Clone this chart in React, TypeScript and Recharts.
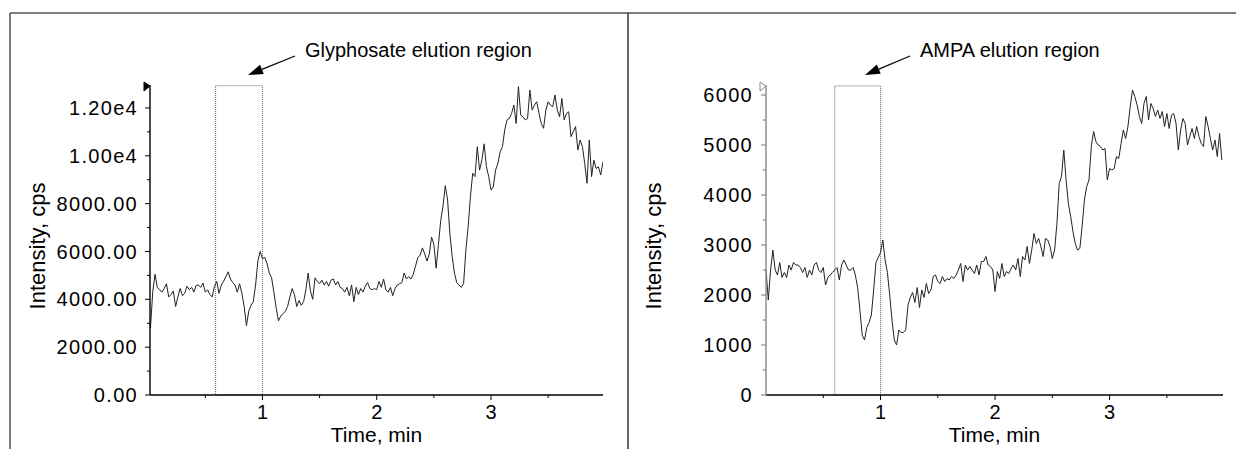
import { LineChart, Line, XAxis, YAxis, ReferenceArea, ReferenceDot } from "recharts";

// retention time, min (shared by both traces)
const timeMin = [
  0.0, 0.02, 0.04, 0.06, 0.08, 0.1, 0.12, 0.14, 0.16, 0.18,
  0.2, 0.22, 0.24, 0.26, 0.28, 0.3, 0.32, 0.34, 0.36, 0.38,
  0.4, 0.42, 0.44, 0.46, 0.48, 0.5, 0.52, 0.54, 0.56, 0.58,
  0.6, 0.62, 0.64, 0.66, 0.68, 0.7, 0.72, 0.74, 0.76, 0.78,
  0.8, 0.82, 0.84, 0.86, 0.88, 0.9, 0.92, 0.94, 0.96, 0.98,
  1.0, 1.02, 1.04, 1.06, 1.08, 1.1, 1.12, 1.14, 1.16, 1.18,
  1.2, 1.22, 1.24, 1.26, 1.28, 1.3, 1.32, 1.34, 1.36, 1.38,
  1.4, 1.42, 1.44, 1.46, 1.48, 1.5, 1.52, 1.54, 1.56, 1.58,
  1.6, 1.62, 1.64, 1.66, 1.68, 1.7, 1.72, 1.74, 1.76, 1.78,
  1.8, 1.82, 1.84, 1.86, 1.88, 1.9, 1.92, 1.94, 1.96, 1.98,
  2.0, 2.02, 2.04, 2.06, 2.08, 2.1, 2.12, 2.14, 2.16, 2.18,
  2.2, 2.22, 2.24, 2.26, 2.28, 2.3, 2.32, 2.34, 2.36, 2.38,
  2.4, 2.42, 2.44, 2.46, 2.48, 2.5, 2.52, 2.54, 2.56, 2.58,
  2.6, 2.62, 2.64, 2.66, 2.68, 2.7, 2.72, 2.74, 2.76, 2.78,
  2.8, 2.82, 2.84, 2.86, 2.88, 2.9, 2.92, 2.94, 2.96, 2.98,
  3.0, 3.02, 3.04, 3.06, 3.08, 3.1, 3.12, 3.14, 3.16, 3.18,
  3.2, 3.22, 3.24, 3.26, 3.28, 3.3, 3.32, 3.34, 3.36, 3.38,
  3.4, 3.42, 3.44, 3.46, 3.48, 3.5, 3.52, 3.54, 3.56, 3.58,
  3.6, 3.62, 3.64, 3.66, 3.68, 3.7, 3.72, 3.74, 3.76, 3.78,
  3.8, 3.82, 3.84, 3.86, 3.88, 3.9, 3.92, 3.94, 3.96, 3.98,
];

// glyphosate trace, cps
const glyphosateCps = [
  null, 2800, 4300, 5050, 4500, 4400, 4300, 4450, 4650, 4100,
  4200, 4350, 3700, 4100, 4450, 4150, 4250, 4550, 4400, 4500,
  4300, 4580, 4600, 4500, 4680, 4300, 4400, 4200, 4100, 4550,
  4750, 4250, 4600, 4750, 4950, 5150, 4850, 4700, 4600, 4300,
  4650, 4250, 3700, 2900, 3500, 3750, 3900, 4600, 5600, 6000,
  5700, 5750, 5500, 5100, 4900, 4300, 3650, 3100, 3300, 3400,
  3500, 3700, 4100, 4450, 4200, 3700, 3950, 3750, 3900, 4400,
  5100, 4350, 4000, 4900, 4750, 4650, 4800, 4600, 4750, 4550,
  4800, 4850, 4600, 4750, 4500, 4450, 4300, 4500, 4150, 4600,
  3900, 4500, 4200, 4450, 4300, 4550, 4700, 4450, 4400, 4450,
  4400, 4750, 4500, 4850, 4400, 4300, 4500, 4150, 4450, 4600,
  4650, 4700, 5100, 4850, 4950, 4850, 5050, 5400, 5750, 5850,
  6150, 5900, 5600, 5900, 6600, 6300, 5300, 6300, 7300, 7900,
  8750, 8150, 6750, 5800, 5100, 4700, 4600, 4500, 4650, 6050,
  7040, 8290, 9270, 9130, 10380, 9400, 9820, 10500, 9540, 9130,
  8570, 8700, 9400, 9680, 10170, 10380, 11080, 11500, 11560, 11770,
  12120, 11350, 12890, 11700, 11630, 11500, 11560, 12750, 11910, 12120,
  12260, 11770, 11350, 11150, 11910, 12260, 12120, 12050, 12540, 11910,
  11630, 12400, 11500, 11770, 11840, 10800, 11010, 11220, 10240, 10660,
  10380, 9680, 8850, 10660, 9130, 9820, 9470, 9540, 9200, 9750,
];

// AMPA trace, cps
const ampaCps = [
  2500, 1900, 2500, 2900, 2500, 2400, 2650, 2350, 2450, 2350,
  2600, 2500, 2650, 2600, 2600, 2550, 2450, 2550, 2350, 2500,
  2400, 2600, 2650, 2500, 2450, 2550, 2200, 2350, 2400, 2450,
  2500, 2550, 2300, 2600, 2700, 2600, 2500, 2500, 2550, 2400,
  2150, 1700, 1200, 1100, 1350, 1450, 1600, 2100, 2650, 2750,
  2850, 3100, 2700, 2450, 2000, 1500, 1100, 1000, 1300, 1250,
  1250, 1300, 1800, 1950, 2050, 1850, 2150, 1750, 2100, 1950,
  2230, 2030, 2100, 2370, 2400, 2270, 2230, 2370, 2270, 2330,
  2300, 2370, 2330, 2400, 2500, 2630, 2270, 2600, 2500, 2570,
  2500, 2430, 2600, 2400, 2670, 2670, 2770, 2600, 2570, 2500,
  2070, 2470, 2330, 2630, 2370, 2470, 2430, 2530, 2600, 2500,
  2730, 2370, 2770, 2700, 2970, 2630, 2900, 3230, 3030, 3130,
  2970, 2770, 3130, 3100, 2970, 2730, 2900, 3430, 4230, 4370,
  4900, 4300, 3830, 3570, 3270, 3030, 2900, 2930, 3370, 3900,
  4170, 4300, 4970, 5270, 5070, 5000, 4970, 4900, 4930, 4300,
  4530, 4500, 4530, 4770, 4730, 5030, 5300, 5130, 5370, 5770,
  6100, 5970, 5800, 5570, 5430, 5830, 5970, 5500, 5830, 5730,
  5570, 5700, 5530, 5670, 5370, 5630, 5330, 5600, 5630, 5430,
  4900, 5300, 5530, 5430, 5000, 5170, 5330, 5130, 5370, 5170,
  5030, 4970, 5570, 5370, 5130, 4900, 5100, 4770, 5230, 4700,
];

const xTicks = [0.5, 1, 1.5, 2, 2.5, 3, 3.5];
const xTickLabels = ["", "1", "", "2", "", "3", ""];

const glyphYTicks = [0, 1000, 2000, 3000, 4000, 5000, 6000, 7000, 8000, 9000, 10000, 11000, 12000];
const glyphYTickLabels = ["0.00", "", "2000.00", "", "4000.00", "", "6000.00", "", "8000.00", "", "1.00e4", "", "1.20e4"];

const ampaYTicks = [0, 500, 1000, 1500, 2000, 2500, 3000, 3500, 4000, 4500, 5000, 5500, 6000];
const ampaYTickLabels = ["0", "", "1000", "", "2000", "", "3000", "", "4000", "", "5000", "", "6000"];

// elution windows, min
const glyphWindow = [0.59, 1.0];
const ampaWindow = [0.6, 1.0];

const data = timeMin.map((t, i) => ({ t, glyphosate: glyphosateCps[i], ampa: ampaCps[i] }));

const FONT = '"Liberation Sans", Arial, Helvetica, sans-serif';

function makeXTick(ticks: number[], labels: string[]) {
  return (p: any) => {
    const i = ticks.indexOf(p.payload.value);
    const label = labels[i];
    return (
      <g>
        <line x1={p.x} x2={p.x} y1={p.y} y2={p.y + (label ? 5 : 3)} stroke="#000" />
        {label && (
          <text x={p.x} y={p.y + 10} dy="0.71em" textAnchor="middle" fontSize={20} fontFamily={FONT} fill="#000">
            {label}
          </text>
        )}
      </g>
    );
  };
}

function makeYTick(ticks: number[], labels: string[], gap: number, color: string) {
  return (p: any) => {
    const i = ticks.indexOf(p.payload.value);
    const label = labels[i];
    return (
      <g>
        <line x1={p.x - (label ? 5 : 3)} x2={p.x} y1={p.y} y2={p.y} stroke={color} />
        {label && (
          <text x={p.x - gap} y={p.y} dy="0.355em" textAnchor="end" fontSize={20} letterSpacing={1.3} fontFamily={FONT} fill="#000">
            {label}
          </text>
        )}
      </g>
    );
  };
}

const XTitle = (props: any) => {
  const vb = props.viewBox;
  return (
    <text x={vb.x + vb.width / 2} y={vb.y + 47} textAnchor="middle" fontSize={21} fontFamily={FONT} fill="#000">
      Time, min
    </text>
  );
};

const YTitle = (props: any) => {
  const vb = props.viewBox;
  const cx = vb.x + props.dx;
  const cy = vb.y + vb.height / 2 + 6;
  return (
    <text x={cx} y={cy} transform={`rotate(-90 ${cx} ${cy})`} textAnchor="middle" dominantBaseline="central" fontSize={22} fontFamily={FONT} fill="#000">
      Intensity, cps
    </text>
  );
};

function axisArrow(filled: boolean) {
  return (p: any) => (
    <path
      d={`M${p.cx - 6},${p.cy - 3} L${p.cx},${p.cy + 1} L${p.cx - 6},${p.cy + 6} Z`}
      fill={filled ? "#000" : "#fff"}
      stroke={filled ? "#000" : "#888"}
      strokeWidth={1}
    />
  );
}

function Pointer({ from, tip }: { from: [number, number]; tip: [number, number] }) {
  const dx = from[0] - tip[0];
  const dy = from[1] - tip[1];
  const len = Math.hypot(dx, dy);
  const ux = dx / len;
  const uy = dy / len;
  const bx = tip[0] + ux * 15;
  const by = tip[1] + uy * 15;
  const nx = -uy * 5;
  const ny = ux * 5;
  return (
    <g>
      <line x1={from[0]} y1={from[1]} x2={bx} y2={by} stroke="#000" strokeWidth={1.2} />
      <polygon points={`${tip[0]},${tip[1]} ${bx + nx},${by + ny} ${bx - nx},${by - ny}`} fill="#000" />
    </g>
  );
}

export default function App() {
  return (
    <div style={{ position: "absolute", left: 0, top: 0, width: 1236, height: 449, background: "#fff", overflow: "hidden" }}>
      <div style={{ position: "absolute", left: 0, top: 0 }}>
        <LineChart width={628} height={449} data={data} margin={{ top: 85, right: 25, bottom: 0, left: 0 }}>
          <XAxis
            type="number"
            dataKey="t"
            domain={[0.016, 3.98]}
            ticks={xTicks}
            tick={makeXTick(xTicks, xTickLabels)}
            tickLine={false}
            tickSize={0}
            tickMargin={0}
            height={54}
            allowDataOverflow
            axisLine={{ stroke: "#000", strokeWidth: 1.4 }}
            label={<XTitle />}
          />
          <YAxis
            type="number"
            domain={[0, 12960]}
            ticks={glyphYTicks}
            tick={makeYTick(glyphYTicks, glyphYTickLabels, 12, "#000")}
            tickLine={false}
            tickSize={0}
            tickMargin={0}
            width={150}
            allowDataOverflow
            axisLine={{ stroke: "#000", strokeWidth: 1.4 }}
            label={<YTitle dx={37} />}
          />
          <ReferenceArea
            x1={glyphWindow[0]}
            x2={glyphWindow[1]}
            y1={0}
            y2={12930}
            fill="none"
            stroke="#666"
            strokeDasharray="1 1"
            ifOverflow="visible"
          />
          <Line type="linear" dataKey="glyphosate" stroke="#222" strokeWidth={1} dot={false} isAnimationActive={false} />
          <ReferenceDot x={0.016} y={12960} ifOverflow="visible" shape={axisArrow(true)} />
        </LineChart>
      </div>
      <div style={{ position: "absolute", left: 628, top: 0 }}>
        <LineChart width={608} height={449} data={data} margin={{ top: 85, right: 13, bottom: 0, left: 0 }}>
          <XAxis
            type="number"
            dataKey="t"
            domain={[0, 3.99]}
            ticks={xTicks}
            tick={makeXTick(xTicks, xTickLabels)}
            tickLine={false}
            tickSize={0}
            tickMargin={0}
            height={54}
            allowDataOverflow
            axisLine={{ stroke: "#000", strokeWidth: 1.4 }}
            label={<XTitle />}
          />
          <YAxis
            type="number"
            domain={[0, 6200]}
            ticks={ampaYTicks}
            tick={makeYTick(ampaYTicks, ampaYTickLabels, 13, "#777")}
            tickLine={false}
            tickSize={0}
            tickMargin={0}
            width={138}
            allowDataOverflow
            axisLine={{ stroke: "#888", strokeWidth: 1.4 }}
            label={<YTitle dx={25} />}
          />
          <ReferenceArea
            x1={ampaWindow[0]}
            x2={ampaWindow[1]}
            y1={0}
            y2={6180}
            fill="none"
            stroke="#666"
            strokeDasharray="1 1"
            ifOverflow="visible"
          />
          <Line type="linear" dataKey="ampa" stroke="#222" strokeWidth={1} dot={false} isAnimationActive={false} />
          <ReferenceDot x={0} y={6200} ifOverflow="visible" shape={axisArrow(false)} />
        </LineChart>
      </div>
      <svg width={1236} height={449} style={{ position: "absolute", left: 0, top: 0, pointerEvents: "none" }}>
        <line x1={10} y1={13} x2={1236} y2={13} stroke="#555" strokeWidth={1.5} />
        <line x1={10} y1={13} x2={10} y2={449} stroke="#555" strokeWidth={1.5} />
        <line x1={628} y1={13} x2={628} y2={449} stroke="#333" strokeWidth={1.5} />
        <Pointer from={[295, 56]} tip={[248, 75]} />
        <text x={305} y={57} fontSize={20} fontFamily={FONT} fill="#000">
          Glyphosate elution region
        </text>
        <Pointer from={[910, 56]} tip={[865, 75]} />
        <text x={920} y={57} fontSize={20} fontFamily={FONT} fill="#000">
          AMPA elution region
        </text>
      </svg>
    </div>
  );
}
